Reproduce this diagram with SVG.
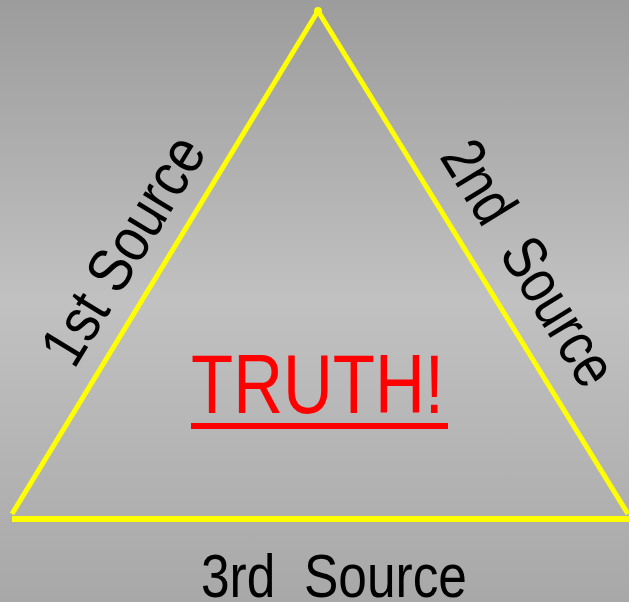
<svg xmlns="http://www.w3.org/2000/svg" width="629" height="602" viewBox="0 0 629 602">
<defs>
<linearGradient id="bg" x1="0" y1="0" x2="0" y2="1">
<stop offset="0" stop-color="#9c9c9c"/>
<stop offset="0.5" stop-color="#c1c1c1"/>
<stop offset="1" stop-color="#a8a8a8"/>
</linearGradient>
</defs>
<style>
.edge{stroke:#ffff00;stroke-width:5;fill:none;stroke-linecap:butt}
.lbl{font-family:"Liberation Sans",Arial,sans-serif;font-size:62px;fill:#000;white-space:pre}
.truth{font-family:"Liberation Sans",Arial,sans-serif;font-size:83px;fill:#ff0000}
</style>
<rect x="0" y="0" width="629" height="602" fill="url(#bg)"/>
<g id="connectors">
<line class="edge" x1="318" y1="11" x2="12" y2="514"/>
<line class="edge" x1="318" y1="11" x2="628" y2="514"/>
<line class="edge" x1="12" y1="519" x2="629" y2="519" style="stroke-width:6"/>
<circle cx="318" cy="11" r="4" fill="#ffff00"/>
</g>
<g id="side1">
<text class="lbl" x="141" y="261" text-anchor="middle" textLength="256" lengthAdjust="spacingAndGlyphs" transform="rotate(-58.5 141 261)" xml:space="preserve">1st Source</text>
</g>
<g id="side2">
<text class="lbl" x="511" y="274" text-anchor="middle" textLength="276" lengthAdjust="spacingAndGlyphs" transform="rotate(58.4 511 274)" xml:space="preserve">2nd  Source</text>
</g>
<g id="side3">
<text class="lbl" x="201" y="597" textLength="266" lengthAdjust="spacingAndGlyphs" xml:space="preserve">3rd  Source</text>
</g>
<g id="truth">
<text class="truth" x="191" y="413" textLength="253" lengthAdjust="spacingAndGlyphs">TRUTH!</text>
<rect x="191" y="423" width="257" height="6" fill="#ff0000"/>
</g>
</svg>
